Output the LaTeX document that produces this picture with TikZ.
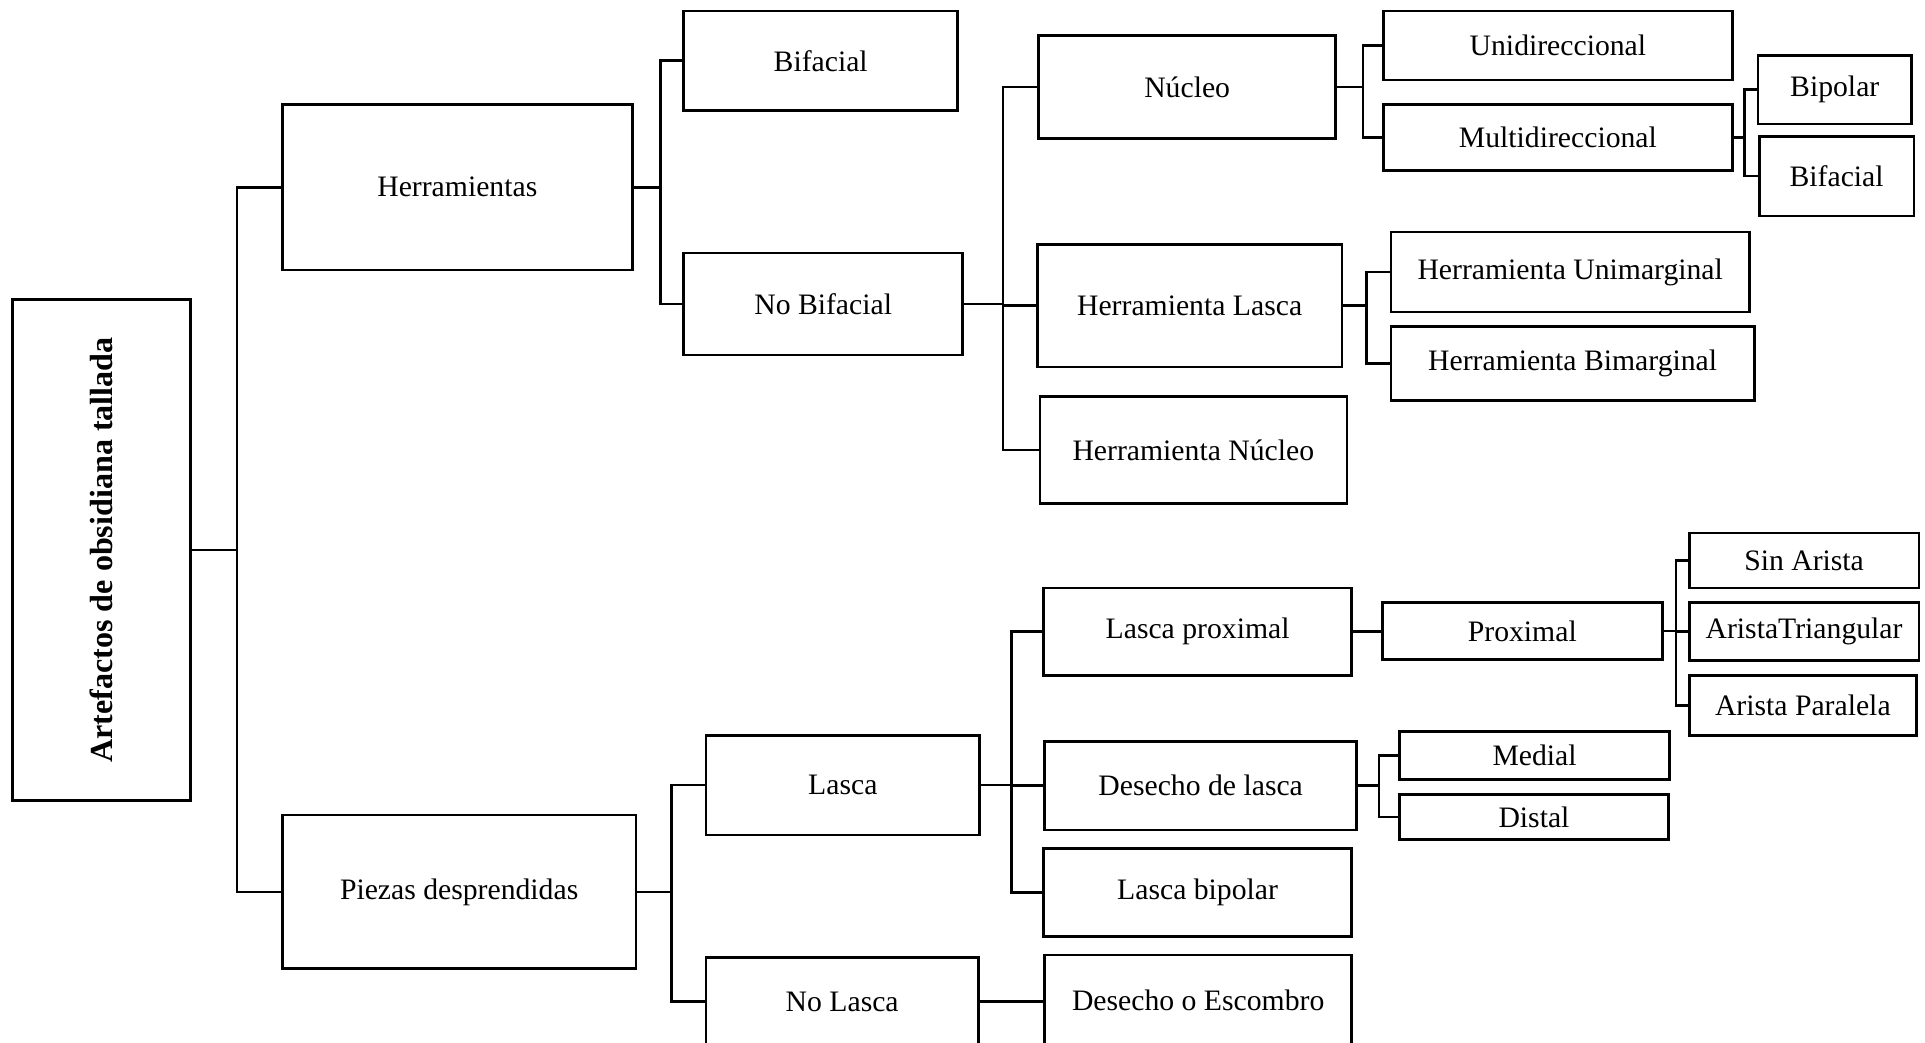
\documentclass[tikz,border=0pt]{standalone}
\usepackage{fontspec}
\setmainfont{Liberation Serif}
\usetikzlibrary{positioning}
\newcommand{\boxfont}{\fontsize{8.6}{10}\selectfont}
\tikzset{
  box/.style  ={rectangle, draw, line width=0.75pt, inner sep=0pt,
                font=\boxfont, align=center},
  rootbox/.style={rectangle, draw, line width=0.75pt, inner sep=0pt},
  sz/.style 2 args={minimum width=#1*0.125mm, minimum height=#2*0.125mm},
  con/.style  ={draw, line width=0.75pt},
}
\begin{document}
\begin{tikzpicture}[x=0.0125cm, y=-0.0125cm]
\useasboundingbox (0,0) rectangle (1568,849);

% ---- root ------------------------------------------------------------
\node[rootbox, sz={145}{408}] (root) at (82.5,448) {};
\node[font=\fontsize{9.3}{11}\selectfont\bfseries, rotate=90] (roottxt) at (root.center)
  {Artefactos de obsidiana tallada};

% ---- first level ------------------------------------------------------
\node[box, sz={285}{135}] (her) at (372.5,152.5) {Herramientas};
\node[box, sz={288}{125}] (pie) at (374,726.5)   {Piezas desprendidas};

% ---- herramientas branch ---------------------------------------------
\node[box, sz={223}{81}]  (bif)   at (668.5,49.5)  {Bifacial};
\node[box, sz={227}{83}]  (nobif) at (670.5,247.5) {No Bifacial};
\node[box, sz={242}{84}]  (nuc)   at (967,71)      {Núcleo};
\node[box, sz={248}{100}] (hlas)  at (969,249)     {Herramienta Lasca};
\node[box, sz={250}{87}]  (hnuc)  at (972,366.5)   {Herramienta Núcleo};
\node[box, sz={284}{56}]  (uni)   at (1269,37)     {Unidireccional};
\node[box, sz={284}{54}]  (mul)   at (1269,112)    {Multidireccional};
\node[box, sz={125}{56}]  (bip)   at (1494.5,73)   {Bipolar};
\node[box, sz={126}{65}]  (bif2)  at (1496,143.5)  {Bifacial};
\node[box, sz={292}{65}]  (huni)  at (1279,221.5)  {Herramienta Unimarginal};
\node[box, sz={296}{60}]  (hbim)  at (1281,296)    {Herramienta Bimarginal};

% ---- piezas branch ----------------------------------------------------
\node[box, sz={223}{81}]  (las)   at (686.5,639.5) {Lasca};
\node[box, sz={222}{72}]  (nolas) at (686,816)     {No Lasca};
\node[box, sz={251}{71}]  (lprox) at (975.5,514.5) {Lasca proximal};
\node[box, sz={254}{72}]  (dlas)  at (978,640)     {Desecho de lasca};
\node[box, sz={251}{72}]  (lbip)  at (975.5,727)   {Lasca bipolar};
\node[box, sz={250}{74}]  (desc)  at (976,815)     {Desecho o Escombro};
\node[box, sz={228}{46}]  (prox)  at (1240,514)    {Proximal};
\node[box, sz={187}{45}]  (sinar) at (1469.5,456.5) {Sin Arista};
\node[box, sz={187}{47}]  (artri) at (1469.5,514.5) {AristaTriangular};
\node[box, sz={185}{49}]  (arpar) at (1468.5,574.5) {Arista Paralela};
\node[box, sz={220}{39}]  (med)   at (1250,615.5)  {Medial};
\node[box, sz={219}{37}]  (dis)   at (1249.5,665.5) {Distal};

% ---- brackets ---------------------------------------------------------
\foreach \c in {her,pie} \draw[con] (root.east) -- ++(37,0) |- (\c.west);
\foreach \c in {bif,nobif} \draw[con] (her.east) -- ++(22,0) |- (\c.west);
\foreach \c in {nuc,hlas,hnuc} \draw[con] (nobif.east) -- ++(32,0) |- (\c.west);
\foreach \c in {uni,mul} \draw[con] (nuc.east) -- ++(21,0) |- (\c.west);
\foreach \c in {bip,bif2} \draw[con] (mul.east) -- ++(9,0) |- (\c.west);
\foreach \c in {huni,hbim} \draw[con] (hlas.east) -- ++(19,0) |- (\c.west);
\foreach \c in {las,nolas} \draw[con] (pie.east) -- ++(28,0) |- (\c.west);
\foreach \c in {lprox,dlas,lbip} \draw[con] (las.east) -- ++(25,0) |- (\c.west);
\foreach \c in {sinar,artri,arpar} \draw[con] (prox.east) -- ++(10,0) |- (\c.west);
\foreach \c in {med,dis} \draw[con] (dlas.east) -- ++(17,0) |- (\c.west);
\draw[con] (nolas.east) -- (nolas.east -| desc.west);
\draw[con] (lprox.east) -- (lprox.east -| prox.west);
\end{tikzpicture}
\end{document}
